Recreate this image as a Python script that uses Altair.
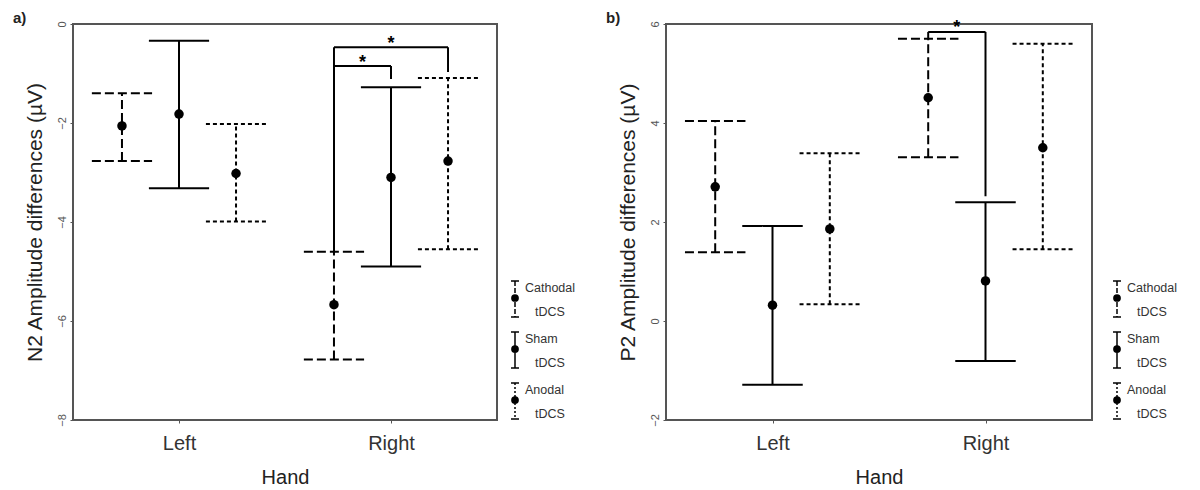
import altair as alt
import pandas as pd

HANDS = ["Left", "Right"]
CONDITIONS = ["Cathodal", "Sham", "Anodal"]
LEGEND_SUFFIX = "tDCS"

# order in each list: Left (Cathodal, Sham, Anodal), then Right (Cathodal, Sham, Anodal)
N2_MEAN = [-2.06, -1.82, -3.02, -5.67, -3.10, -2.77]
N2_LOW = [-2.77, -3.32, -3.99, -6.78, -4.90, -4.55]
N2_HIGH = [-1.40, -0.34, -2.02, -4.60, -1.28, -1.09]

P2_MEAN = [2.71, 0.32, 1.86, 4.51, 0.81, 3.50]
P2_LOW = [1.39, -1.29, 0.34, 3.31, -0.81, 1.45]
P2_HIGH = [4.04, 1.92, 3.39, 5.70, 2.40, 5.60]

# significance brackets: (hand, from condition, to condition, bar level, end of right leg)
N2_SIG = [("Right", "Cathodal", "Sham", -0.85, -1.11),
          ("Right", "Cathodal", "Anodal", -0.47, -0.97)]
P2_SIG = [("Right", "Cathodal", "Sham", 5.84, 2.52)]

N2_TICKS = [-8, -6, -4, -2, 0]
P2_TICKS = [-2, 0, 2, 4, 6]

# style constants
OFFSET = {"Cathodal": -0.269, "Sham": 0.0, "Anodal": 0.269}
CAP = 0.142
DASH = {"Cathodal": [9, 4], "Sham": [1, 0], "Anodal": [4, 3]}
LDASH = {"Cathodal": [5, 2], "Sham": [1, 0], "Anodal": [2, 2]}
STAR_GAP = 0.15
FONT = "Liberation Sans"


def panel(tag, ytitle, mean, low, high, sig, ticks, w, h, leg_dx):
    rows = []
    for i, (m, lo, hi) in enumerate(zip(mean, low, high)):
        hand = HANDS[i // 3]
        cond = CONDITIONS[i % 3]
        x = HANDS.index(hand) + 0.5 + OFFSET[cond]
        rows.append(dict(hand=hand, cond=cond, mean=m, lo=lo, hi=hi,
                         x=x, xl=x - CAP, xr=x + CAP))
    df = pd.DataFrame(rows)

    segs, stars = [], []
    for hand, c1, c2, bar, end in sig:
        x1 = HANDS.index(hand) + 0.5 + OFFSET[c1]
        x2 = HANDS.index(hand) + 0.5 + OFFSET[c2]
        hi1 = df[(df.hand == hand) & (df.cond == c1)].hi.iloc[0]
        segs += [dict(a=x1, b=x2, c=bar, d=bar),
                 dict(a=x1, b=x1, c=hi1, d=bar),
                 dict(a=x2, b=x2, c=end, d=bar)]
        stars.append(dict(x=(x1 + x2) / 2, y=bar + STAR_GAP))
    sdf = pd.DataFrame(segs)
    stdf = pd.DataFrame(stars)

    xs = alt.Scale(domain=[0, len(HANDS)], nice=False, zero=False)
    ys = alt.Scale(domain=[ticks[0], ticks[-1]], nice=False, zero=False)
    hand_list = "[" + ",".join("'%s'" % hnd for hnd in HANDS) + "]"
    xaxis = alt.Axis(values=[i + 0.5 for i in range(len(HANDS))],
                     labelExpr=hand_list + "[floor(datum.value)]",
                     title="Hand", grid=False, domain=False, tickSize=3,
                     labelFontSize=20, titleFontSize=20, labelPadding=10,
                     titlePadding=14)
    yaxis = alt.Axis(values=ticks, title=ytitle, grid=False, domain=False,
                     tickSize=3, labelAngle=270, labelAlign="center",
                     labelBaseline="bottom", labelFontSize=11, labelPadding=3,
                     titleFontSize=21, titlePadding=11, labelColor="#555")

    base = alt.Chart(df)
    dash = alt.StrokeDash("cond:N",
                          scale=alt.Scale(domain=CONDITIONS,
                                          range=[DASH[c] for c in CONDITIONS]),
                          legend=None)
    stems = base.mark_rule(color="black", strokeWidth=2).encode(
        x=alt.X("x:Q", scale=xs, axis=xaxis),
        y=alt.Y("lo:Q", scale=ys, axis=yaxis), y2="hi:Q", strokeDash=dash)
    lowcap = base.mark_rule(color="black", strokeWidth=2).encode(
        x="xl:Q", x2="xr:Q", y="lo:Q", strokeDash=dash)
    highcap = base.mark_rule(color="black", strokeWidth=2).encode(
        x="xl:Q", x2="xr:Q", y="hi:Q", strokeDash=dash)
    dots = base.mark_circle(size=90, color="black", opacity=1).encode(
        x="x:Q", y="mean:Q")

    brackets = alt.Chart(sdf).mark_rule(color="black", strokeWidth=2).encode(
        x="a:Q", x2="b:Q", y="c:Q", y2="d:Q")
    asterisks = alt.Chart(stdf).mark_text(
        text="*", fontSize=18, fontWeight="bold", baseline="middle", dy=4,
        color="black").encode(x="x:Q", y="y:Q")

    dummy = alt.Chart(pd.DataFrame({"k": [0]}))
    layers = [stems, lowcap, highcap, dots, brackets, asterisks]

    lx = w + leg_dx
    for j, cond in enumerate(CONDITIONS):
        top = 257 + j * 51
        bottom = top + 36
        layers += [
            dummy.mark_rule(color="black", strokeWidth=1.5,
                            strokeDash=LDASH[cond]).encode(
                x=alt.value(lx), y=alt.value(top), y2=alt.value(bottom)),
            dummy.mark_rule(color="black", strokeWidth=1.5).encode(
                x=alt.value(lx - 4), x2=alt.value(lx + 4), y=alt.value(top)),
            dummy.mark_rule(color="black", strokeWidth=1.5).encode(
                x=alt.value(lx - 4), x2=alt.value(lx + 4), y=alt.value(bottom)),
            dummy.mark_circle(size=60, color="black", opacity=1).encode(
                x=alt.value(lx), y=alt.value(top + 17)),
            dummy.mark_text(text=cond, align="left", baseline="middle",
                            fontSize=12.5, color="#333").encode(
                x=alt.value(lx + 10), y=alt.value(top + 7)),
            dummy.mark_text(text=LEGEND_SUFFIX, align="left",
                            baseline="middle", fontSize=12.5,
                            color="#333").encode(
                x=alt.value(lx + 20), y=alt.value(top + 31)),
        ]
    layers.append(dummy.mark_text(text=tag, align="left", baseline="middle",
                                  fontSize=15, fontWeight="bold",
                                  color="#222").encode(
        x=alt.value(-60), y=alt.value(-6)))

    return alt.layer(*layers).properties(width=w, height=h)


left = panel("a)", "N2 Amplitude differences (\u00b5V)", N2_MEAN, N2_LOW,
             N2_HIGH, N2_SIG, N2_TICKS, 424, 396, 18)
right = panel("b)", "P2 Amplitude differences (\u00b5V)", P2_MEAN, P2_LOW,
              P2_HIGH, P2_SIG, P2_TICKS, 426, 396, 25)

chart = alt.hconcat(left, right, spacing=28).properties(
    padding={"left": 4, "top": 2, "right": 5, "bottom": 0}
).configure_axis(
    labelFont=FONT, titleFont=FONT, labelColor="#333", titleColor="#222",
    tickColor="#555", titleFontWeight="normal"
).configure_text(font=FONT).configure_view(stroke="#555", strokeWidth=2)

chart.save("out.html", embed_options={"renderer": "svg", "actions": False})
